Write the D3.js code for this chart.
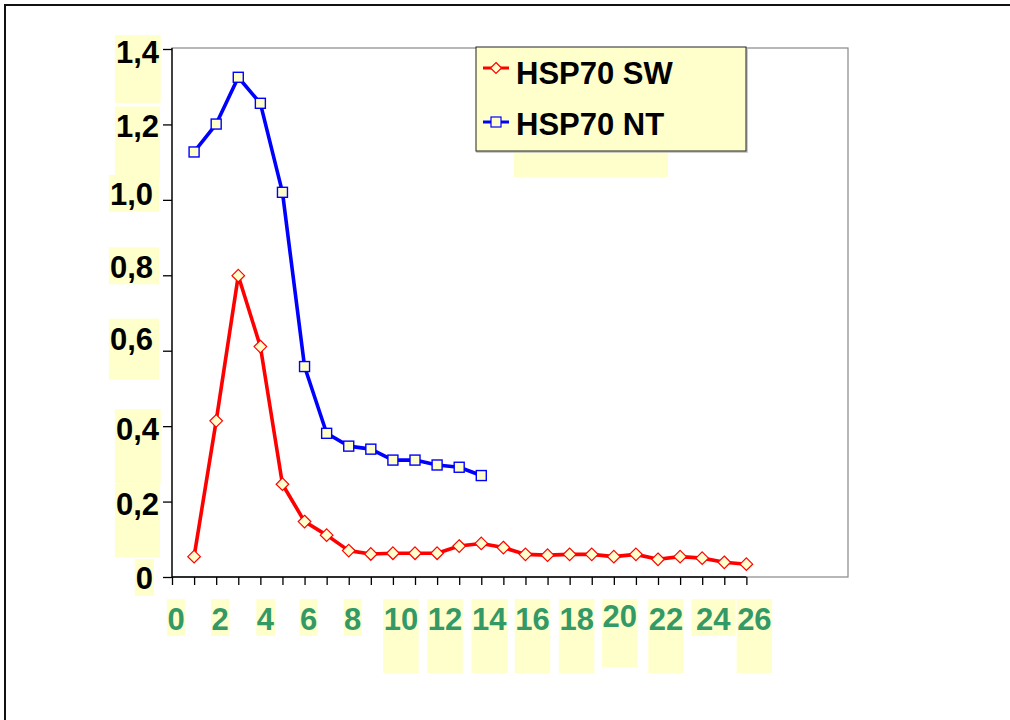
<!DOCTYPE html>
<html>
<head>
<meta charset="utf-8">
<script src="https://cdnjs.cloudflare.com/ajax/libs/d3/7.8.5/d3.min.js"></script>
<style>
  html, body { margin: 0; padding: 0; background: #fff; overflow: hidden; }
  svg { display: block; }
  text { font-family: "Liberation Sans", Arial, sans-serif; font-weight: bold; }
</style>
</head>
<body>
<svg id="chart" width="1010" height="720"></svg>
<script>
// ---- data ----
const xCategories = d3.range(1, 27);           // measurement index 1..26
const seriesNames = ["HSP70 SW", "HSP70 NT"];
const swValues = [0.054, 0.414, 0.799, 0.611, 0.246, 0.147, 0.111, 0.070, 0.061, 0.063,
                  0.063, 0.063, 0.082, 0.089, 0.078, 0.060, 0.058, 0.060, 0.060, 0.054,
                  0.060, 0.047, 0.054, 0.050, 0.039, 0.034];
const ntValues = [1.127, 1.201, 1.325, 1.256, 1.020, 0.558, 0.381, 0.347, 0.339, 0.310,
                  0.310, 0.297, 0.291, 0.269];
const yTickValues = [0, 0.2, 0.4, 0.6, 0.8, 1.0, 1.2, 1.4];
const yTickLabels = ["0", "0,2", "0,4", "0,6", "0,8", "1,0", "1,2", "1,4"];
const xTickValues = d3.range(0, 27);
const xLabelValues = [0, 2, 4, 6, 8, 10, 12, 14, 16, 18, 20, 22, 24, 26];

// ---- layout / style (decoration of the original's label boxes) ----
const yLabelLayout = [ // right edge of text, vertical shift, box top/bottom rel. to tick, box extra right
  {right: 153, dy: 1,   top: -18, bottom: 19, padR: 1},
  {right: 159, dy: 2,   top: -18, bottom: 56, padR: 1},
  {right: 159, dy: 2.5, top: -17, bottom: 57, padR: 1},
  {right: 153, dy: -12, top: -32, bottom: 29, padR: 6},
  {right: 153, dy: -8,  top: -28, bottom: 9,  padR: 6},
  {right: 153, dy: -6,  top: -25, bottom: 12, padR: 6},
  {right: 159, dy: 2,   top: -18, bottom: 54, padR: 1},
  {right: 159, dy: 2.5, top: -14, bottom: 54, padR: 1}
];
const xLabelLayout = [ // horizontal shift, baseline, box bottom
  {dx: 4, base: 630, bottom: 636}, {dx: 4, base: 630, bottom: 636}, {dx: 5, base: 630, bottom: 636},
  {dx: 4, base: 630, bottom: 636}, {dx: 4, base: 630, bottom: 636}, {dx: 8, base: 630, bottom: 673},
  {dx: 8, base: 630, bottom: 673}, {dx: 8, base: 630, bottom: 673}, {dx: 7, base: 630, bottom: 673},
  {dx: 7, base: 630, bottom: 673}, {dx: 6, base: 627, bottom: 667, extraW: 0}, {dx: 8, base: 630, bottom: 673},
  {dx: 11, base: 630, bottom: 636, extraW: 8}, {dx: 8, base: 630, bottom: 673}
];

const svg = d3.select("#chart");
const W = 1010, H = 720;
const plot = {left: 172, top: 48, right: 848, bottom: 577};

// outer frame (only top and left edges fall inside the picture)
svg.append("path").attr("d", `M5,${H}V5H${W}`)
  .attr("fill", "none").attr("stroke", "#111").attr("stroke-width", 2);

const x = d3.scaleLinear().domain([0, 30.6]).range([plot.left, plot.right]);
const y = d3.scaleLinear().domain([0, 1.4]).range([plot.bottom, 49]);

// plot area border (gray)
svg.append("rect").attr("x", plot.left).attr("y", plot.top)
  .attr("width", plot.right - plot.left).attr("height", plot.bottom - plot.top)
  .attr("fill", "none").attr("stroke", "#888").attr("stroke-width", 1.2);

// axes
const yAxis = d3.axisLeft(y).tickValues(yTickValues).tickSize(9).tickFormat("");
const gy = svg.append("g").attr("transform", `translate(${plot.left},0)`).call(yAxis);
gy.select(".domain").attr("stroke", "#000").attr("stroke-width", 1.3)
  .attr("d", `M0,${plot.top}V${plot.bottom}`);
gy.selectAll(".tick line").attr("stroke", "#000").attr("stroke-width", 1.3);

const xAxis = d3.axisBottom(x).tickValues(xTickValues).tickSize(8).tickFormat("");
const gx = svg.append("g").attr("transform", `translate(0,${plot.bottom})`).call(xAxis);
gx.select(".domain").attr("stroke", "#000").attr("stroke-width", 1.3)
  .attr("d", `M${plot.left},0H${x(26)}`);
gx.selectAll(".tick line").attr("stroke", "#000").attr("stroke-width", 1.3);

// y labels with yellow boxes
const yl = svg.append("g");
yTickValues.forEach((v, i) => {
  const L = yLabelLayout[i];
  const ty = y(v);
  const t = yl.append("text").attr("x", L.right).attr("y", ty + L.dy + 11)
    .attr("text-anchor", "end").attr("font-size", 31).attr("fill", "#000")
    .text(yTickLabels[i]);
  const bb = t.node().getBBox();
  yl.insert("rect", "text").attr("x", bb.x - 1).attr("y", ty + L.top)
    .attr("width", bb.width + 1 + L.padR).attr("height", L.bottom - L.top)
    .attr("fill", "#FFFFCC");
});

// x labels with yellow boxes
const xl = svg.append("g");
xLabelValues.forEach((v, i) => {
  const L = xLabelLayout[i];
  const t = xl.append("text").attr("x", x(v) + L.dx).attr("y", L.base)
    .attr("text-anchor", "middle").attr("font-size", 31).attr("fill", "#339966")
    .text(String(v));
  const bb = t.node().getBBox();
  const ew = L.extraW || 0;
  xl.insert("rect", "text").attr("x", bb.x - 0.5 - ew / 2).attr("y", 599)
    .attr("width", bb.width + 1 + ew).attr("height", L.bottom - 599)
    .attr("fill", "#FFFFCC");
});

// series
const line = d3.line().x(d => x(d[0])).y(d => y(d[1]));
const swData = swValues.map((v, i) => [xCategories[i], v]);
const ntData = ntValues.map((v, i) => [xCategories[i], v]);

const diamond = (cx, cy, r) => `M${cx},${cy - r}L${cx + r},${cy}L${cx},${cy + r}L${cx - r},${cy}Z`;

function drawSeries(data, color, shape) {
  svg.append("path").datum(data).attr("d", line).attr("fill", "none")
    .attr("stroke", color).attr("stroke-width", 3.6).attr("stroke-linejoin", "round");
  const g = svg.append("g");
  data.forEach(d => {
    if (shape === "diamond") {
      g.append("path").attr("d", diamond(x(d[0]), y(d[1]), 6.3))
        .attr("fill", "#FFFFCC").attr("stroke", color).attr("stroke-width", 1.2);
    } else {
      g.append("rect").attr("x", x(d[0]) - 5).attr("y", y(d[1]) - 5)
        .attr("width", 10).attr("height", 10)
        .attr("fill", "#FFFFCC").attr("stroke", color).attr("stroke-width", 1.4);
    }
  });
}
drawSeries(swData, "#FF0000", "diamond");
drawSeries(ntData, "#0000FF", "square");

// legend
const lg = svg.append("g");
lg.append("rect").attr("x", 514).attr("y", 152).attr("width", 154).attr("height", 25).attr("fill", "#FFFFCC");
lg.append("rect").attr("x", 477).attr("y", 48).attr("width", 270).attr("height", 104)
  .attr("fill", "none").attr("stroke", "#bbb").attr("stroke-width", 1.5);
lg.append("rect").attr("x", 476).attr("y", 47).attr("width", 270).attr("height", 104)
  .attr("fill", "#FFFFCC").attr("stroke", "#222").attr("stroke-width", 1);
const legendRows = [
  {name: seriesNames[0], color: "#FF0000", shape: "diamond", ly: 68, base: 84},
  {name: seriesNames[1], color: "#0000FF", shape: "square", ly: 122, base: 135}
];
legendRows.forEach(r => {
  lg.append("line").attr("x1", 483).attr("x2", 509).attr("y1", r.ly).attr("y2", r.ly)
    .attr("stroke", r.color).attr("stroke-width", 3);
  if (r.shape === "diamond") {
    lg.append("path").attr("d", diamond(496, r.ly, 5.5)).attr("fill", "#FFFFCC")
      .attr("stroke", r.color).attr("stroke-width", 1.2);
  } else {
    lg.append("rect").attr("x", 491).attr("y", r.ly - 5).attr("width", 10).attr("height", 10)
      .attr("fill", "#FFFFCC").attr("stroke", r.color).attr("stroke-width", 1.2);
  }
  lg.append("text").attr("x", 516).attr("y", r.base).attr("font-size", 31).attr("fill", "#000")
    .text(r.name);
});
</script>
</body>
</html>
